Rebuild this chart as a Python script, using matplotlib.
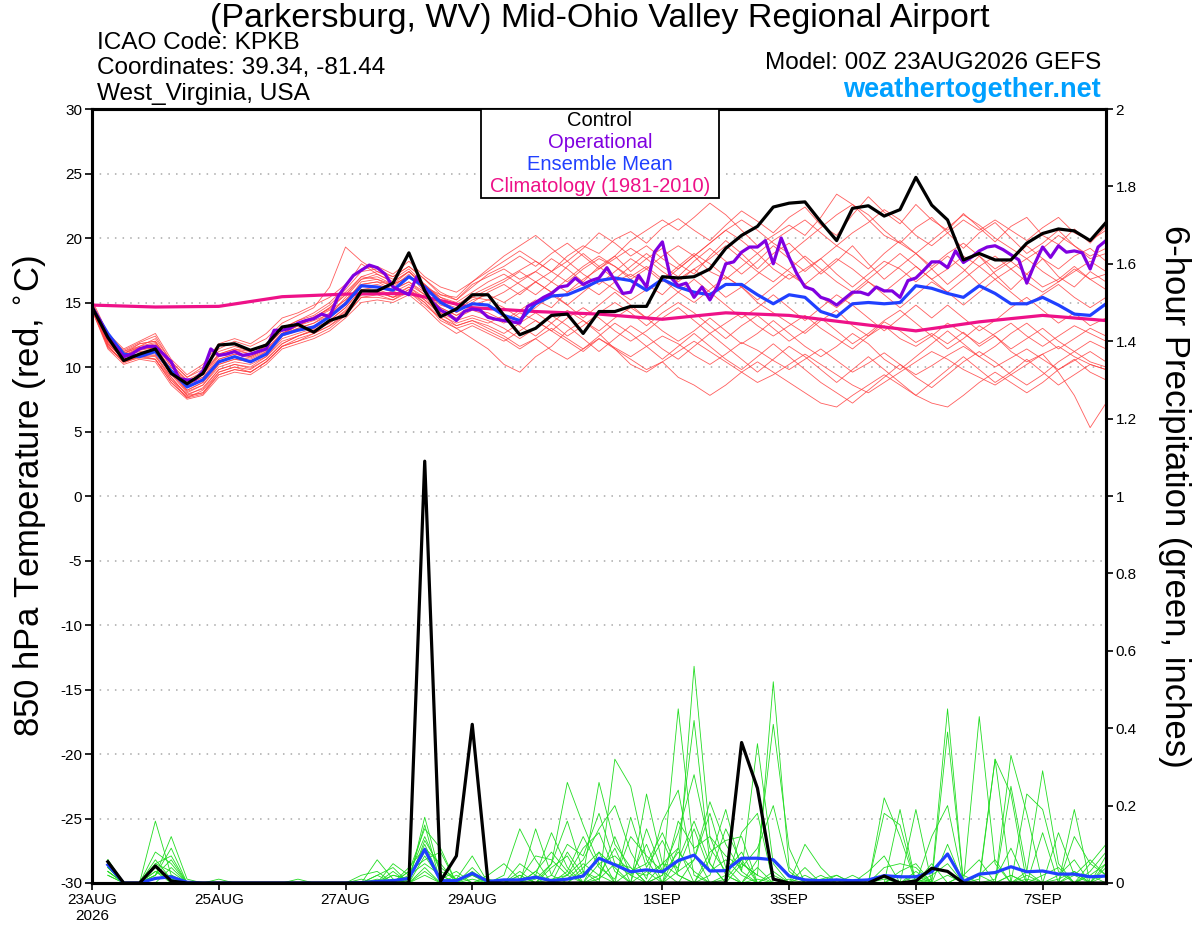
import numpy as np
import matplotlib
matplotlib.use("Agg")
import matplotlib.pyplot as plt
from matplotlib.patches import Rectangle

plt.rcParams["font.family"] = ["Liberation Sans", "DejaVu Sans"]
plt.rcParams["axes.unicode_minus"] = False

# forecast hours (00Z 23AUG2026 + h)
temp_hours = np.arange(0, 385, 6)
oper_hours = np.arange(0, 385, 3)
precip_hours = np.arange(6, 385, 6)
clim_hours = np.arange(0, 385, 24)

tick_hours = [0, 48, 96, 144, 216, 264, 312, 360]
tick_labels = ["23AUG\n2026", "25AUG", "27AUG", "29AUG", "1SEP", "3SEP", "5SEP", "7SEP"]

# 850 hPa temperature (C)
control_t = [14.65, 12.3, 10.5, 11.0, 11.4, 9.5, 8.7, 9.5,
             11.7, 11.8, 11.3, 11.7, 13.1, 13.3, 12.7, 13.6,
             14.0, 15.9, 15.9, 16.5, 18.85, 15.9, 13.9, 14.5,
             15.6, 15.6, 14.0, 12.5, 13.0, 14.0, 14.1, 12.6,
             14.3, 14.3, 14.7, 14.7, 17.0, 16.9, 17.0, 17.6,
             19.2, 20.2, 20.9, 22.4, 22.7, 22.8, 21.25, 19.8,
             22.3, 22.5, 21.7, 22.2, 24.7, 22.55, 21.4, 18.3,
             18.8, 18.3, 18.3, 19.6, 20.35, 20.7, 20.55, 19.8,
             21.2]

mean_t = [14.65, 12.6, 11.0, 10.8, 11.2, 9.7, 8.45, 9.0,
          10.4, 10.8, 10.4, 11.0, 12.5, 12.85, 13.1, 13.9,
          14.9, 16.3, 16.2, 15.95, 17.0, 16.2, 15.0, 14.35,
          14.9, 14.8, 14.0, 13.6, 14.9, 15.5, 15.6, 16.1,
          16.7, 16.9, 16.7, 15.95, 16.8, 16.2, 15.8, 15.6,
          16.4, 16.4, 15.6, 14.9, 15.6, 15.4, 14.3, 13.9,
          14.9, 15.0, 14.9, 15.0, 16.3, 16.1, 15.7, 15.4,
          16.3, 15.7, 14.9, 14.9, 15.4, 14.8, 14.1, 14.0,
          14.9]

oper_t = [14.65, 13.6, 12.3, 11.55, 10.8, 11.0, 11.4, 11.6,
          11.6, 11.0, 10.4, 9.1, 9.0, 9.0, 9.7, 11.4,
          10.9, 11.0, 11.2, 10.9, 11.0, 11.2, 11.4, 12.85,
          12.85, 13.0, 13.4, 13.6, 13.75, 14.1, 13.9, 15.4,
          16.3, 17.1, 17.5, 17.9, 17.7, 17.2, 16.2, 15.9,
          15.6, 17.0, 16.0, 15.0, 14.4, 14.1, 13.6, 14.3,
          14.5, 14.4, 13.85, 13.7, 13.6, 13.5, 13.4, 14.7,
          15.0, 15.4, 15.7, 16.2, 16.3, 16.9, 16.4, 16.7,
          16.9, 17.7, 16.7, 15.7, 15.8, 17.1, 16.2, 18.9,
          19.7, 17.0, 16.3, 16.5, 15.4, 16.2, 15.2, 16.3,
          18.0, 18.15, 18.9, 19.3, 19.3, 19.8, 18.0, 20.0,
          18.5, 17.2, 16.2, 16.0, 15.4, 15.2, 14.8, 15.3,
          15.8, 15.8, 15.6, 16.2, 15.9, 15.9, 15.4, 16.7,
          16.9, 17.5, 18.15, 18.15, 17.7, 19.0, 18.1, 18.5,
          19.0, 19.3, 19.4, 19.1, 18.7, 18.3, 16.5, 18.0,
          19.3, 18.5, 19.4, 18.9, 19.0, 18.85, 17.6, 19.3,
          19.8]

clim_t = [14.8, 14.65, 14.7, 15.45, 15.65, 15.7, 14.6, 14.3, 14.1,
          13.7, 14.2, 14.0, 13.4, 12.8, 13.5, 14.0, 13.6]

# ensemble members, temperature
mem_t01 = [14.9, 12.2, 11.0, 11.8, 12.0, 10.2, 9.0, 9.6, 11.0,
           11.4, 11.0, 11.6, 12.8, 13.4, 13.9, 14.5, 15.6,
           17.0, 17.4, 16.8, 17.6, 16.4, 15.2, 14.8, 15.6, 16.2,
           16.8, 17.5, 18.2, 17.4, 18.6, 19.4, 18.8, 19.9, 20.5,
           19.6, 20.8, 21.5, 20.6, 19.8, 21.0, 22.1, 21.3, 20.4,
           21.6, 22.4, 21.0, 20.2, 21.8, 23.2, 22.0, 21.1, 22.6,
           21.4, 20.6, 21.9, 20.8, 19.7, 20.9, 21.6, 20.2, 19.5, 20.7, 19.6, 20.9]
mem_t02 = [14.5, 11.6, 10.4, 10.9, 10.6, 9.0, 7.9, 8.3, 9.8,
           10.2, 9.9, 10.6, 11.8, 12.4, 12.9, 13.4, 14.3,
           15.6, 15.9, 15.4, 16.2, 15.4, 14.2, 13.2, 13.6, 13.0,
           12.4, 11.6, 12.2, 11.3, 10.6, 11.4, 12.2, 11.5, 10.8,
           11.6, 12.4, 11.8, 10.9, 10.2, 11.0, 11.9, 11.3, 10.5,
           9.8, 10.6, 11.4, 10.5, 9.6, 10.3, 11.1, 10.2, 9.4,
           10.1, 10.9, 11.6, 10.8, 10.0, 10.7, 11.4, 10.6, 9.8, 10.5, 11.2, 10.4]
mem_t03 = [14.7, 12.1, 10.9, 11.4, 11.6, 9.6, 8.2, 8.8, 10.2,
           10.6, 10.4, 11.2, 12.6, 13.2, 13.6, 14.1, 15.0,
           16.6, 16.8, 16.2, 17.2, 15.8, 14.6, 14.0, 14.5, 14.2,
           13.6, 14.4, 15.2, 14.6, 15.8, 16.4, 15.6, 16.6, 17.2,
           16.4, 15.6, 16.8, 17.6, 16.5, 15.4, 16.2, 15.0, 14.2,
           13.4, 12.6, 13.6, 14.4, 13.2, 12.4, 13.5, 12.8, 11.9,
           12.6, 11.8, 12.7, 11.6, 12.4, 11.2, 10.4, 11.0, 9.6, 7.8, 5.3, 7.2]
mem_t04 = [15.0, 12.4, 11.2, 11.6, 12.2, 10.4, 9.2, 9.8, 11.4,
           12.0, 11.6, 12.2, 13.4, 14.0, 14.6, 16.2, 19.3,
           18.2, 17.4, 17.0, 17.8, 16.8, 15.8, 15.2, 16.4, 17.0,
           17.6, 16.8, 17.4, 18.4, 17.6, 16.6, 17.8, 18.6, 17.4,
           18.4, 19.2, 18.0, 17.2, 18.6, 19.8, 18.8, 17.6, 18.8,
           19.6, 18.4, 17.2, 18.2, 19.4, 18.0, 16.8, 17.8, 18.8,
           17.6, 16.4, 17.4, 18.6, 17.2, 16.0, 17.2, 18.4, 17.0, 16.2, 17.4, 16.6]
mem_t05 = [14.6, 11.8, 10.6, 11.0, 11.0, 9.2, 7.8, 8.0, 9.6,
           10.0, 9.6, 10.4, 11.6, 12.0, 12.6, 13.2, 14.0,
           15.4, 15.6, 15.2, 16.0, 15.0, 13.6, 13.0, 12.2, 11.4,
           10.2, 9.6, 10.8, 11.6, 12.8, 13.6, 12.6, 11.4, 10.6,
           9.8, 10.4, 11.2, 12.0, 11.2, 10.4, 9.6, 8.8, 9.4,
           10.2, 11.0, 10.2, 9.4, 8.6, 8.0, 8.8, 9.6, 10.4,
           11.2, 10.6, 9.8, 9.2, 8.6, 9.4, 10.2, 11.0, 11.6, 10.8, 10.2, 9.8]
mem_t06 = [14.8, 12.3, 11.1, 11.5, 11.8, 10.0, 8.8, 9.2, 10.8,
           11.2, 10.8, 11.4, 12.6, 13.2, 13.8, 14.4, 15.2,
           16.4, 16.6, 16.4, 17.4, 16.2, 15.6, 15.2, 16.2, 17.2,
           17.8, 18.6, 17.8, 18.8, 19.6, 18.6, 17.6, 18.6, 19.8,
           20.6, 21.4, 20.6, 21.6, 22.7, 21.8, 20.6, 19.4, 20.2,
           21.0, 20.2, 21.6, 23.4, 22.6, 21.4, 20.2, 19.6, 20.8,
           21.6, 20.4, 19.2, 20.4, 21.2, 20.0, 18.8, 19.6, 20.6, 19.4, 18.6, 19.2]
mem_t07 = [14.4, 11.4, 10.2, 10.6, 10.4, 8.6, 7.5, 7.8, 9.2,
           9.6, 9.4, 10.2, 11.4, 11.8, 12.2, 12.8, 13.8,
           15.0, 15.2, 15.0, 15.6, 14.6, 13.4, 12.6, 13.2, 12.6,
           12.0, 12.8, 13.6, 12.8, 12.0, 11.2, 12.2, 11.4, 10.2,
           9.6, 10.4, 9.2, 8.6, 7.8, 8.6, 9.6, 10.4, 9.6,
           8.8, 8.0, 7.2, 6.9, 7.8, 8.6, 9.4, 8.6, 7.8,
           7.2, 6.9, 7.8, 8.8, 9.6, 8.8, 8.0, 8.8, 9.8, 10.6, 9.6, 9.0]
mem_t08 = [14.7, 12.0, 10.7, 11.3, 11.5, 9.8, 8.4, 9.0, 10.6,
           11.0, 10.7, 11.3, 12.4, 13.0, 13.4, 14.0, 15.4,
           16.8, 17.0, 16.4, 17.0, 16.4, 15.2, 14.2, 15.0, 15.8,
           16.4, 15.6, 16.6, 17.4, 16.6, 17.6, 18.4, 17.8, 16.8,
           17.6, 18.6, 19.4, 18.6, 17.4, 16.8, 17.8, 18.8, 17.6,
           16.8, 17.6, 18.4, 17.2, 16.2, 17.2, 18.2, 17.6, 16.6,
           17.6, 18.6, 17.6, 16.4, 17.4, 18.2, 17.2, 16.2, 16.8, 17.8, 16.8, 16.0]
mem_t09 = [14.6, 11.9, 10.5, 11.0, 11.2, 9.4, 8.0, 8.6, 10.0,
           10.4, 10.2, 10.8, 12.2, 12.6, 13.0, 13.6, 14.6,
           16.0, 16.2, 15.8, 16.4, 15.6, 14.4, 13.8, 14.4, 14.0,
           13.4, 14.2, 13.6, 12.8, 13.8, 14.6, 13.8, 12.8, 12.0,
           12.8, 13.8, 14.6, 13.6, 12.6, 13.4, 14.2, 13.2, 12.4,
           13.2, 14.0, 13.0, 12.2, 11.4, 12.4, 13.2, 12.2, 11.6,
           12.4, 13.4, 12.6, 11.8, 12.6, 13.4, 12.4, 11.6, 12.4, 13.2, 12.6, 12.0]
mem_t10 = [15.2, 12.6, 11.4, 12.0, 12.6, 10.6, 9.4, 10.2, 11.8,
           12.2, 11.8, 12.6, 13.8, 14.2, 14.8, 15.4, 16.4,
           17.6, 17.8, 17.2, 18.2, 17.0, 16.2, 15.8, 16.6, 17.4,
           18.2, 19.0, 18.2, 17.4, 18.2, 19.2, 20.4, 19.6, 18.6,
           19.4, 18.4, 17.6, 18.6, 19.6, 20.6, 19.8, 18.8, 19.8,
           20.6, 21.4, 20.4, 19.4, 20.4, 21.2, 22.2, 21.4, 20.2,
           19.4, 20.4, 21.4, 20.6, 21.4, 20.6, 19.8, 20.8, 21.6, 20.4, 19.8, 20.6]
mem_t11 = [14.5, 11.7, 10.3, 10.8, 10.9, 9.0, 7.6, 8.2, 9.6,
           10.0, 9.8, 10.6, 11.8, 12.4, 12.8, 13.4, 14.4,
           15.8, 16.0, 15.6, 16.2, 15.2, 14.0, 13.4, 13.8, 13.4,
           14.0, 13.2, 12.4, 13.4, 14.4, 13.6, 12.8, 13.8, 14.6,
           13.8, 12.8, 12.0, 12.8, 13.8, 12.8, 11.8, 12.6, 13.6,
           12.6, 11.6, 10.8, 11.6, 12.6, 11.8, 10.6, 9.8, 10.8,
           11.8, 12.8, 11.8, 10.8, 11.6, 12.6, 13.4, 12.4, 11.4, 12.2, 13.0, 12.4]
mem_t12 = [14.8, 12.2, 10.9, 11.5, 11.4, 9.6, 8.2, 8.8, 10.4,
           10.8, 10.6, 11.2, 12.6, 13.0, 13.4, 14.2, 15.2,
           16.4, 16.6, 16.0, 16.6, 15.8, 14.8, 14.4, 15.2, 15.6,
           15.0, 15.8, 16.6, 15.8, 14.8, 15.8, 16.8, 16.0, 15.2,
           16.0, 16.8, 15.8, 15.0, 16.0, 17.0, 16.2, 15.2, 16.2,
           17.2, 16.4, 15.4, 14.6, 15.6, 16.6, 15.6, 14.6, 15.6,
           16.6, 15.8, 14.8, 15.8, 16.8, 15.8, 14.8, 15.6, 16.4, 15.4, 14.6, 15.4]
mem_t13 = [14.9, 12.4, 11.3, 11.9, 12.4, 10.4, 9.2, 10.0, 11.2,
           11.6, 11.2, 11.8, 13.0, 13.6, 14.2, 15.0, 16.2,
           18.0, 17.2, 16.6, 17.4, 16.2, 15.4, 15.0, 15.8, 16.6,
           17.2, 16.4, 15.6, 16.6, 17.8, 18.8, 17.8, 16.8, 17.8,
           18.8, 17.8, 17.0, 18.2, 19.2, 18.2, 17.2, 18.2, 19.4,
           18.4, 17.4, 18.4, 19.4, 18.6, 17.6, 18.8, 19.8, 18.8,
           17.8, 18.8, 19.6, 18.6, 17.6, 18.4, 19.4, 18.4, 17.6, 18.6, 19.2, 18.2]
mem_t14 = [14.6, 11.8, 10.6, 10.9, 10.8, 9.2, 7.8, 8.4, 9.8,
           10.2, 10.0, 10.8, 12.0, 12.4, 12.8, 13.6, 14.6,
           16.0, 15.8, 15.4, 16.0, 15.2, 14.2, 13.6, 14.0, 13.6,
           13.0, 12.2, 13.0, 14.0, 13.2, 12.2, 11.2, 12.2, 13.2,
           12.4, 11.4, 10.6, 11.6, 12.6, 11.6, 10.6, 9.6, 10.6,
           11.6, 10.8, 9.8, 8.8, 9.8, 10.8, 9.8, 8.8, 7.8,
           8.8, 9.8, 10.8, 9.8, 8.8, 9.6, 10.6, 9.6, 8.6, 9.4, 10.2, 9.8]
mem_t15 = [14.7, 12.1, 10.8, 11.4, 11.6, 9.8, 8.6, 9.2, 10.6,
           11.0, 10.8, 11.4, 12.6, 13.2, 13.8, 14.6, 15.8,
           17.0, 16.8, 16.4, 17.0, 16.2, 15.0, 14.6, 15.4, 16.0,
           16.6, 17.4, 16.6, 15.8, 16.8, 17.8, 18.6, 17.8, 17.0,
           17.8, 16.8, 17.8, 18.8, 18.0, 17.0, 16.2, 17.2, 18.2,
           17.4, 16.4, 17.4, 18.4, 17.6, 16.6, 15.8, 16.8, 17.8,
           16.8, 17.6, 18.6, 17.8, 16.8, 17.6, 18.4, 17.4, 16.6, 17.4, 18.2, 17.4]
mem_t16 = [14.5, 11.5, 10.4, 10.7, 10.6, 8.8, 7.7, 8.0, 9.4,
           9.8, 9.6, 10.4, 11.6, 12.0, 12.4, 13.0, 14.0,
           15.4, 15.4, 15.2, 15.8, 14.8, 13.8, 13.2, 13.6, 13.2,
           12.6, 13.4, 14.2, 13.4, 12.4, 13.2, 14.2, 15.0, 14.2,
           13.2, 14.2, 15.0, 14.2, 13.2, 12.2, 13.2, 14.0, 13.0,
           12.0, 12.8, 13.8, 12.8, 11.8, 12.6, 13.6, 14.4, 13.4,
           12.4, 11.4, 12.2, 13.2, 12.4, 11.4, 12.2, 13.0, 12.0, 11.2, 12.0, 11.4]
mem_t17 = [15.0, 12.5, 11.2, 11.8, 12.0, 10.2, 8.9, 9.4, 11.0,
           11.4, 11.2, 11.8, 13.0, 13.6, 14.0, 14.8, 16.0,
           17.4, 17.6, 17.0, 17.8, 16.8, 15.6, 15.4, 16.6, 17.6,
           18.6, 19.4, 20.2, 19.2, 18.2, 17.2, 16.4, 17.4, 18.4,
           17.6, 16.6, 17.6, 18.6, 19.6, 20.6, 21.4, 20.6, 19.6,
           18.8, 19.8, 20.8, 21.8, 22.6, 21.8, 20.6, 19.6, 18.8,
           19.8, 20.8, 21.8, 21.0, 20.0, 19.2, 18.4, 19.2, 20.2, 19.4, 18.4, 18.8]
mem_t18 = [14.7, 12.0, 10.8, 11.2, 11.3, 9.5, 8.1, 8.6, 10.2,
           10.6, 10.4, 11.0, 12.4, 12.8, 13.2, 13.8, 14.8,
           16.2, 16.4, 16.0, 16.6, 15.6, 14.6, 14.0, 14.8, 15.2,
           14.6, 13.8, 14.6, 15.6, 14.8, 13.8, 14.8, 15.8, 14.8,
           13.8, 14.8, 15.8, 16.8, 15.8, 14.8, 13.8, 14.6, 15.6,
           14.6, 13.6, 14.6, 15.6, 14.8, 13.8, 12.8, 13.8, 14.8,
           13.8, 14.8, 13.8, 12.8, 13.6, 14.6, 15.4, 14.4, 13.4, 14.2, 13.2, 13.8]
mem_t19 = [14.4, 11.6, 10.4, 10.8, 10.6, 8.8, 7.6, 7.9, 9.4,
           9.8, 9.6, 10.4, 11.6, 12.2, 12.6, 13.2, 14.2,
           15.6, 15.8, 15.4, 15.8, 15.0, 13.8, 13.0, 13.4, 12.8,
           12.2, 11.4, 12.2, 13.0, 12.2, 11.4, 12.4, 13.4, 12.6,
           11.6, 10.6, 11.6, 12.6, 11.6, 10.6, 9.8, 10.8, 11.8,
           10.8, 9.8, 8.8, 8.0, 7.2, 8.2, 9.2, 10.2, 9.2,
           8.4, 9.4, 10.4, 11.2, 10.4, 9.4, 8.6, 9.4, 10.4, 11.2, 10.4, 10.0]
mem_t20 = [14.8, 12.1, 11.0, 11.6, 11.9, 10.0, 8.7, 9.4, 10.9,
           11.3, 11.0, 11.6, 12.8, 13.4, 13.8, 14.6, 15.6,
           16.8, 17.2, 16.6, 17.4, 16.4, 15.4, 14.8, 15.4, 15.2,
           15.8, 16.6, 17.4, 16.6, 15.8, 16.8, 17.6, 18.4, 19.2,
           18.4, 17.4, 16.6, 17.6, 18.4, 19.4, 18.4, 17.4, 16.6,
           17.6, 18.6, 17.6, 16.6, 15.8, 16.8, 17.8, 18.8, 17.8,
           16.8, 15.8, 16.8, 17.8, 18.6, 17.6, 16.6, 15.8, 16.6, 17.6, 16.8, 17.2]

temp_members = [mem_t01, mem_t02, mem_t03, mem_t04, mem_t05, mem_t06, mem_t07,
                mem_t08, mem_t09, mem_t10, mem_t11, mem_t12, mem_t13, mem_t14,
                mem_t15, mem_t16, mem_t17, mem_t18, mem_t19, mem_t20]

# 6-hour precipitation (inches), from h=6
control_p = [0.055, 0, 0, 0.044, 0.005, 0, 0, 0,
             0, 0, 0, 0, 0, 0, 0, 0,
             0, 0, 0, 0, 1.09, 0.005, 0.07, 0.41,
             0, 0, 0, 0, 0, 0, 0, 0,
             0, 0, 0, 0, 0, 0, 0, 0,
             0.363, 0.245, 0.01, 0, 0, 0, 0, 0,
             0, 0.018, 0, 0.005, 0.038, 0.03, 0, 0,
             0, 0, 0, 0, 0, 0, 0, 0]

mean_p = [0.047, 0.0, 0.0, 0.012, 0.016, 0.002, 0.0, 0.0,
          0, 0, 0, 0, 0, 0, 0, 0,
          0.001, 0.004, 0.006, 0.012, 0.087, 0.006, 0.006, 0.025,
          0.004, 0.008, 0.008, 0.015, 0.006, 0.01, 0.018, 0.064,
          0.047, 0.029, 0.034, 0.029, 0.058, 0.072, 0.031, 0.032,
          0.064, 0.064, 0.06, 0.018, 0.008, 0.006, 0.008, 0.006,
          0.008, 0.019, 0.016, 0.016, 0.029, 0.075, 0.004, 0.023,
          0.027, 0.042, 0.029, 0.031, 0.023, 0.023, 0.016, 0.018]

mem_p01 = [0.06, 0, 0, 0.16, 0.02, 0, 0, 0,
           0, 0, 0, 0, 0, 0, 0, 0,
           0, 0.06, 0.01, 0, 0.17, 0.02, 0, 0,
           0, 0, 0, 0.03, 0.0, 0.08, 0.02, 0.26,
           0.10, 0.04, 0.0, 0.02, 0.45, 0.08, 0.0, 0.01,
           0.06, 0.0, 0.03, 0, 0, 0, 0, 0,
           0, 0.22, 0.12, 0, 0.02, 0.05, 0, 0,
           0.01, 0.09, 0.0, 0.02, 0.04, 0.0, 0.03, 0.08]
mem_p02 = [0.05, 0, 0, 0.02, 0.09, 0, 0, 0,
           0, 0, 0, 0, 0, 0, 0, 0,
           0.01, 0, 0.05, 0.02, 0.12, 0.03, 0.01, 0.07,
           0, 0, 0.02, 0.0, 0.05, 0.16, 0.03, 0.0,
           0.32, 0.25, 0.06, 0.0, 0.03, 0.56, 0.12, 0.02,
           0.0, 0.04, 0.0, 0.0, 0.1, 0.04, 0, 0,
           0, 0, 0, 0, 0.01, 0.45, 0.0, 0.02,
           0.0, 0.0, 0.03, 0.29, 0.05, 0.0, 0.02, 0.05]
mem_p03 = [0.04, 0, 0, 0.05, 0.07, 0, 0, 0,
           0, 0, 0, 0, 0, 0, 0, 0,
           0, 0.02, 0, 0.03, 0.14, 0.09, 0, 0.02,
           0, 0.02, 0.14, 0.06, 0, 0.02, 0.09, 0.13,
           0.03, 0.0, 0.23, 0.05, 0.09, 0.42, 0.05, 0.0,
           0.05, 0.02, 0.0, 0.01, 0.0, 0, 0.02, 0,
           0.0, 0.02, 0.0, 0.19, 0.0, 0.39, 0.0, 0.0,
           0.32, 0.0, 0.0, 0.0, 0.0, 0.02, 0.06, 0.02]
mem_p04 = [0.03, 0, 0, 0.08, 0.05, 0, 0, 0.01,
           0, 0, 0, 0, 0, 0, 0, 0,
           0, 0, 0.02, 0.01, 0.10, 0.01, 0.03, 0.0,
           0.01, 0.0, 0.0, 0.14, 0.02, 0.0, 0.04, 0.08,
           0.0, 0.17, 0.04, 0.11, 0.02, 0.0, 0.06, 0.19,
           0.03, 0.36, 0.05, 0.0, 0, 0, 0, 0,
           0.0, 0.0, 0.02, 0.0, 0.12, 0.20, 0.0, 0.43,
           0.05, 0.0, 0.02, 0.0, 0.13, 0.02, 0.0, 0.0]
mem_p05 = [0.04, 0, 0, 0.02, 0.12, 0.01, 0, 0,
           0, 0, 0, 0, 0, 0, 0, 0,
           0, 0.01, 0, 0.04, 0.09, 0.05, 0, 0.0,
           0, 0, 0.0, 0.02, 0.13, 0.04, 0.0, 0.02,
           0.09, 0.0, 0.03, 0.0, 0.09, 0.0, 0.02, 0.14,
           0.05, 0.02, 0.52, 0.04, 0.0, 0.02, 0, 0,
           0.0, 0.01, 0.0, 0.0, 0.05, 0.0, 0.0, 0.01,
           0.32, 0.23, 0.0, 0.0, 0.01, 0.03, 0.0, 0.04]
mem_p06 = [0.05, 0, 0, 0.03, 0.01, 0, 0, 0,
           0, 0, 0, 0, 0, 0, 0, 0,
           0, 0.0, 0.0, 0.02, 0.05, 0.02, 0.0, 0.03,
           0, 0, 0.0, 0.01, 0.05, 0.26, 0.15, 0.05,
           0.0, 0.0, 0.14, 0.03, 0.0, 0.06, 0.18, 0.04,
           0.0, 0.06, 0.41, 0.09, 0.0, 0.01, 0.02, 0,
           0.0, 0.0, 0.0, 0.01, 0.0, 0.0, 0.02, 0.06,
           0.0, 0.33, 0.18, 0.0, 0.0, 0.12, 0.05, 0.02]
mem_p07 = [0.02, 0, 0, 0.05, 0.03, 0, 0, 0,
           0, 0, 0, 0, 0.01, 0, 0, 0,
           0.02, 0.03, 0, 0.0, 0.07, 0.01, 0, 0.01,
           0.0, 0.0, 0.02, 0.0, 0.01, 0.02, 0.06, 0.14,
           0.20, 0.08, 0.01, 0.16, 0.24, 0.02, 0.0, 0.0,
           0.0, 0.01, 0.0, 0.0, 0.04, 0.0, 0.0, 0.02,
           0.0, 0.18, 0.15, 0.0, 0.0, 0.0, 0.0, 0.02,
           0.06, 0.0, 0.23, 0.19, 0.03, 0.0, 0.0, 0.0]
mem_p08 = [0.06, 0.0, 0, 0.04, 0.0, 0, 0, 0,
           0, 0, 0, 0, 0, 0, 0, 0,
           0, 0.0, 0.03, 0.0, 0.11, 0.04, 0.01, 0.02,
           0.0, 0.0, 0.0, 0.03, 0.08, 0.03, 0.12, 0.04,
           0.01, 0.12, 0.07, 0.03, 0.13, 0.28, 0.09, 0.03,
           0.08, 0.0, 0.02, 0.0, 0.0, 0, 0.01, 0,
           0.0, 0.04, 0.05, 0.04, 0.0, 0.02, 0.0, 0.0,
           0.0, 0.25, 0.03, 0.0, 0.0, 0.0, 0.05, 0.10]
mem_p09 = [0.03, 0, 0, 0.02, 0.06, 0.0, 0, 0,
           0, 0, 0, 0, 0, 0, 0, 0,
           0, 0.0, 0, 0.01, 0.15, 0.0, 0.0, 0.0,
           0.0, 0.0, 0.05, 0.02, 0.0, 0.0, 0.03, 0.01,
           0.05, 0.04, 0.0, 0.0, 0.06, 0.16, 0.05, 0.0,
           0.13, 0.18, 0.0, 0.0, 0.0, 0, 0.0, 0.0,
           0.0, 0.0, 0.19, 0.0, 0.0, 0.0, 0.02, 0.0,
           0.0, 0.0, 0.01, 0.0, 0.0, 0.19, 0.0, 0.0]
mem_p10 = [0.05, 0.0, 0, 0.06, 0.01, 0.0, 0, 0,
           0, 0, 0, 0, 0, 0, 0, 0,
           0, 0.0, 0.02, 0.01, 0.08, 0.01, 0.0, 0.0,
           0.0, 0.0, 0.0, 0.0, 0.02, 0.10, 0.07, 0.18,
           0.05, 0.02, 0.10, 0.0, 0.16, 0.09, 0.12, 0.07,
           0.04, 0.09, 0.2, 0.03, 0.0, 0.0, 0, 0,
           0.0, 0.0, 0.0, 0.0, 0.0, 0.1, 0.0, 0.0,
           0.0, 0.02, 0.0, 0.0, 0.02, 0.06, 0.0, 0.07]
mem_p11 = [0.04, 0, 0, 0.0, 0.04, 0, 0, 0,
           0, 0, 0, 0, 0, 0, 0, 0,
           0, 0.0, 0.0, 0.03, 0.06, 0.08, 0.0, 0.0,
           0.02, 0.05, 0.01, 0.07, 0.06, 0.02, 0.0, 0.05,
           0.07, 0.03, 0.05, 0.13, 0.03, 0.06, 0.21, 0.1,
           0.03, 0.0, 0.0, 0.0, 0.02, 0.0, 0.0, 0.0,
           0.0, 0.0, 0.0, 0.02, 0.0, 0.0, 0.0, 0.0,
           0.0, 0.0, 0.0, 0.0, 0.0, 0.0, 0.0, 0.05]
mem_p12 = [0.05, 0.0, 0.0, 0.01, 0.02, 0, 0, 0,
           0, 0, 0, 0, 0, 0, 0, 0,
           0.0, 0.0, 0.0, 0.0, 0.04, 0.0, 0.0, 0.04,
           0.0, 0.0, 0.0, 0.0, 0.0, 0.01, 0.05, 0.02,
           0.0, 0.03, 0.02, 0.05, 0.04, 0.14, 0.03, 0.06,
           0.02, 0.0, 0.0, 0.0, 0.0, 0.0, 0.0, 0.0,
           0.03, 0.07, 0.0, 0.0, 0.0, 0.0, 0.0, 0.0,
           0.0, 0.0, 0.0, 0.13, 0.0, 0.0, 0.0, 0.02]
mem_p13 = [0.02, 0, 0, 0.03, 0.0, 0, 0, 0,
           0, 0, 0, 0, 0, 0, 0, 0,
           0, 0.02, 0.04, 0.0, 0.02, 0.0, 0.0, 0.0,
           0.0, 0.0, 0.03, 0.0, 0.04, 0.07, 0.0, 0.01,
           0.12, 0.02, 0.0, 0.05, 0.02, 0.0, 0.08, 0.11,
           0.12, 0.0, 0.0, 0.0, 0.0, 0.0, 0.0, 0.0,
           0.0, 0.0, 0.0, 0.03, 0.0, 0.0, 0.0, 0.0,
           0.0, 0.02, 0.0, 0.0, 0.0, 0.0, 0.02, 0.0]
mem_p14 = [0.03, 0, 0, 0.01, 0.02, 0, 0, 0,
           0, 0, 0, 0, 0, 0, 0, 0,
           0.0, 0.0, 0.01, 0.0, 0.03, 0.0, 0.02, 0.0,
           0.0, 0.0, 0.0, 0.0, 0.0, 0.03, 0.0, 0.08,
           0.04, 0.0, 0.0, 0.02, 0.08, 0.03, 0.0, 0.02,
           0.0, 0.0, 0.0, 0.0, 0.0, 0.0, 0.0, 0.0,
           0.0, 0.0, 0.03, 0.05, 0.0, 0.0, 0.0, 0.0,
           0.0, 0.0, 0.0, 0.0, 0.0, 0.03, 0.0, 0.0]

precip_members = [mem_p01, mem_p02, mem_p03, mem_p04, mem_p05, mem_p06, mem_p07,
                  mem_p08, mem_p09, mem_p10, mem_p11, mem_p12, mem_p13, mem_p14]

RED = "#ff4040"
GREEN = "#22dd22"
PURPLE = "#8000e0"
BLUE = "#2040ff"
PINK = "#ee1188"

W, H = 1200, 927
fig = plt.figure(figsize=(12, 9.27), dpi=100)
ax = fig.add_axes([92 / W, 1 - 883 / H, (1106 - 92) / W, (883 - 109) / H])
ax2 = ax.twinx()

for m in temp_members:
    ax.plot(temp_hours, m, color=RED, lw=0.6, alpha=0.85)
ax.plot(clim_hours, clim_t, color=PINK, lw=2.3)
ax.plot(temp_hours, mean_t, color=BLUE, lw=2.3)
ax.plot(oper_hours, oper_t, color=PURPLE, lw=2.3)
ax.plot(temp_hours, control_t, color="black", lw=2.3)

for m in precip_members:
    ax2.plot(precip_hours, m, color=GREEN, lw=0.6)
ax2.plot(precip_hours, mean_p, color=BLUE, lw=2.3)
ax2.plot(precip_hours, control_p, color="black", lw=2.3)

ax.set_xlim(0, 384)
ax.set_ylim(-30, 30)
ax2.set_ylim(0, 2)
ax.set_yticks(np.arange(-30, 31, 5))
ax2.set_yticks(np.arange(0, 2.01, 0.2))
ax2.set_yticklabels(["%g" % v for v in np.round(np.arange(0, 2.01, 0.2), 1)])
ax.set_xticks(tick_hours)
ax.set_xticklabels(tick_labels)

for v in range(-25, 30, 5):
    ax.axhline(v, color="#a8a8a8", lw=1.1, ls=(0, (1, 4)), zorder=0)

for a in (ax, ax2):
    for s in a.spines.values():
        s.set_linewidth(2.2)
    a.tick_params(direction="out", length=5, width=1.2, labelsize=11, pad=2)

# legend box, hanging from the top of the plot frame
fig.add_artist(Rectangle((481 / W, 1 - 198 / H), (719 - 481) / W, (198 - 109) / H,
                         transform=fig.transFigure, fc="white", ec="black", lw=1.3, zorder=5))
leg = [("Control", "black"), ("Operational", PURPLE),
       ("Ensemble Mean", BLUE), ("Climatology (1981-2010)", PINK)]
leg_y = [121, 142, 164, 186]
for (txt, col), yy in zip(leg, leg_y):
    fig.text(600 / W, 1 - yy / H, txt, color=col, ha="center", va="center",
             fontsize=14.5, zorder=6)

fig.text(600 / W, 1 - 27 / H, "(Parkersburg, WV) Mid-Ohio Valley Regional Airport",
         ha="center", va="baseline", fontsize=24.5)
fig.text(97 / W, 1 - 43 / H, "ICAO Code: KPKB", ha="left", va="center", fontsize=17.6)
fig.text(97 / W, 1 - 68 / H, "Coordinates: 39.34, -81.44", ha="left", va="center", fontsize=17.6)
fig.text(97 / W, 1 - 94 / H, "West_Virginia, USA", ha="left", va="center", fontsize=17.6)
fig.text(1101 / W, 1 - 63 / H, "Model: 00Z 23AUG2026 GEFS", ha="right", va="center", fontsize=17.6)
fig.text(1101 / W, 1 - 90 / H, "weathertogether.net", ha="right", va="center",
         fontsize=19.5, fontweight="bold", color="#00a0ff")

fig.text(30 / W, 1 - 496 / H, r"850 hPa Temperature (red, $^{\circ}$C)", rotation=90,
         ha="center", va="center", fontsize=25)
fig.text(1175 / W, 1 - 496 / H, "6-hour Precipitation (green, inches)", rotation=270,
         ha="center", va="center", fontsize=25)

fig.savefig("out.png", dpi=100)
